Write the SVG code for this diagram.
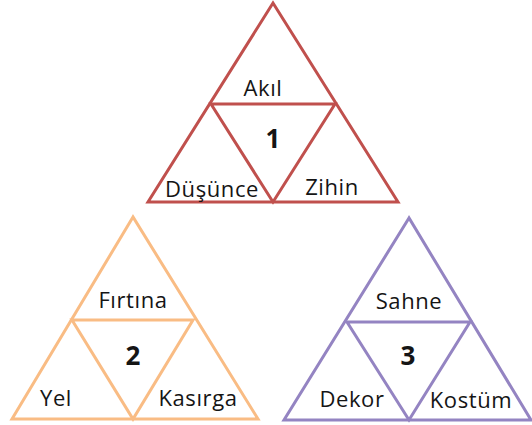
<svg xmlns="http://www.w3.org/2000/svg" width="532" height="425" viewBox="0 0 532 425">
<style>
.t{fill:none;stroke-width:3;stroke-linejoin:miter}
.r{stroke:#c0504d}
.o{stroke:#f9bc84}
.p{stroke:#9484c2}
text{font-family:"Open Sans","Liberation Sans",sans-serif;font-size:22px;letter-spacing:0.6px;fill:#151515;text-anchor:middle}
.n{font-weight:bold;font-size:26px;letter-spacing:0}
</style>
<rect width="532" height="425" fill="#fff"/>
<g id="tri1">
<polygon class="t r" points="273,3 148,202 398,202"/>
<polygon class="t r" points="211,104 335,104 273,202"/>
<text x="263" y="96">Akıl</text>
<text class="n" x="273" y="148">1</text>
<text x="212" y="197">Düşünce</text>
<text x="332" y="195">Zihin</text>
</g>
<g id="tri2">
<polygon class="t o" points="133,217 12,419 258,419"/>
<polygon class="t o" points="72,320 193,320 133,419"/>
<text x="133" y="308">Fırtına</text>
<text class="n" x="133" y="365">2</text>
<text x="56" y="406">Yel</text>
<text x="198" y="406">Kasırga</text>
</g>
<g id="tri3">
<polygon class="t p" points="409,218 284,420 531,420"/>
<polygon class="t p" points="347,322 470,322 409,420"/>
<text x="409" y="309">Sahne</text>
<text class="n" x="408" y="365">3</text>
<text x="352" y="407">Dekor</text>
<text x="471" y="408">Kostüm</text>
</g>
</svg>
